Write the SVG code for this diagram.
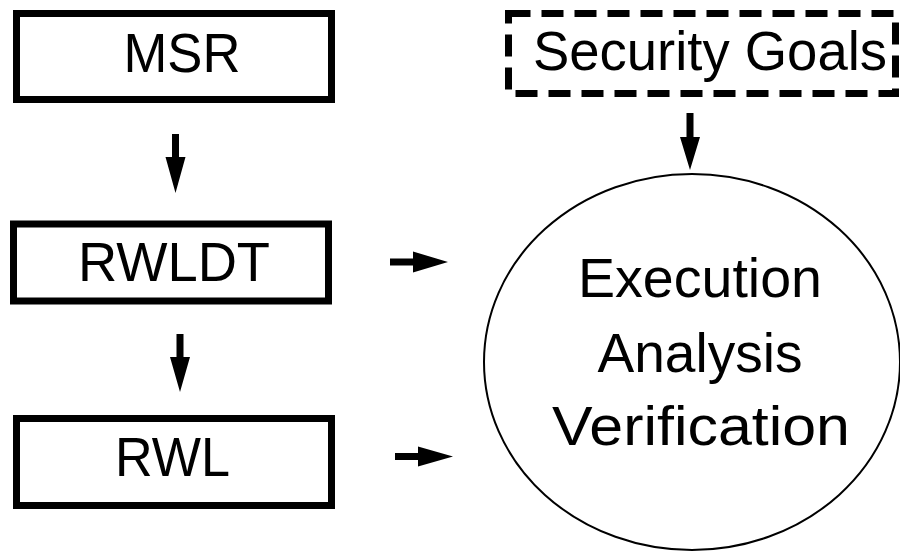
<svg xmlns="http://www.w3.org/2000/svg" width="900" height="552" viewBox="0 0 900 552">
<style>
.box{fill:#fff;stroke:#000;stroke-width:7}
.dash{fill:#fff;stroke:#000;stroke-width:7;stroke-dasharray:22 11}
.ell{fill:#fff;stroke:#000;stroke-width:2}
.t{font-family:"Liberation Sans","DejaVu Sans",sans-serif;font-size:55px;fill:#000;text-anchor:middle}
.arr{fill:#000;stroke:none}
</style>
<rect width="900" height="552" fill="#fff"/>
<g id="connectors">
<polygon class="arr" points="172,134 179,134 179,157 185.5,157 175.5,193 165.5,157 172,157"/>
<polygon class="arr" points="176.5,334 183.5,334 183.5,357 190,357 180,392 170,357 176.5,357"/>
<polygon class="arr" points="686.5,113 693.5,113 693.5,137 700,137 690,170 680,137 686.5,137"/>
<polygon class="arr" points="390,258.5 413,258.5 413,251.5 448,262 413,272.5 413,265.5 390,265.5"/>
<polygon class="arr" points="395,453 418,453 418,446.5 453,456.5 418,466.5 418,460 395,460"/>
</g>
<g id="msr">
<rect class="box" x="16.5" y="13.5" width="315" height="86"/>
<text class="t" x="182" y="72" textLength="117" lengthAdjust="spacingAndGlyphs">MSR</text>
</g>
<g id="rwldt">
<rect class="box" x="13.5" y="224" width="315" height="77"/>
<text class="t" x="174" y="281" textLength="192" lengthAdjust="spacingAndGlyphs">RWLDT</text>
</g>
<g id="rwl">
<rect class="box" x="16.5" y="418.5" width="315" height="87"/>
<text class="t" x="172.5" y="476" textLength="115" lengthAdjust="spacingAndGlyphs">RWL</text>
</g>
<g id="security-goals">
<rect class="dash" x="508.5" y="13.5" width="387" height="80"/>
<text class="t" x="710" y="70" textLength="354" lengthAdjust="spacingAndGlyphs">Security Goals</text>
</g>
<g id="execution">
<ellipse class="ell" cx="692" cy="362" rx="208" ry="188"/>
<text class="t" x="700" y="297" textLength="244" lengthAdjust="spacingAndGlyphs">Execution</text>
<text class="t" x="700" y="372" textLength="205" lengthAdjust="spacingAndGlyphs">Analysis</text>
<text class="t" x="701" y="445" textLength="298" lengthAdjust="spacingAndGlyphs">Verification</text>
</g>
</svg>
